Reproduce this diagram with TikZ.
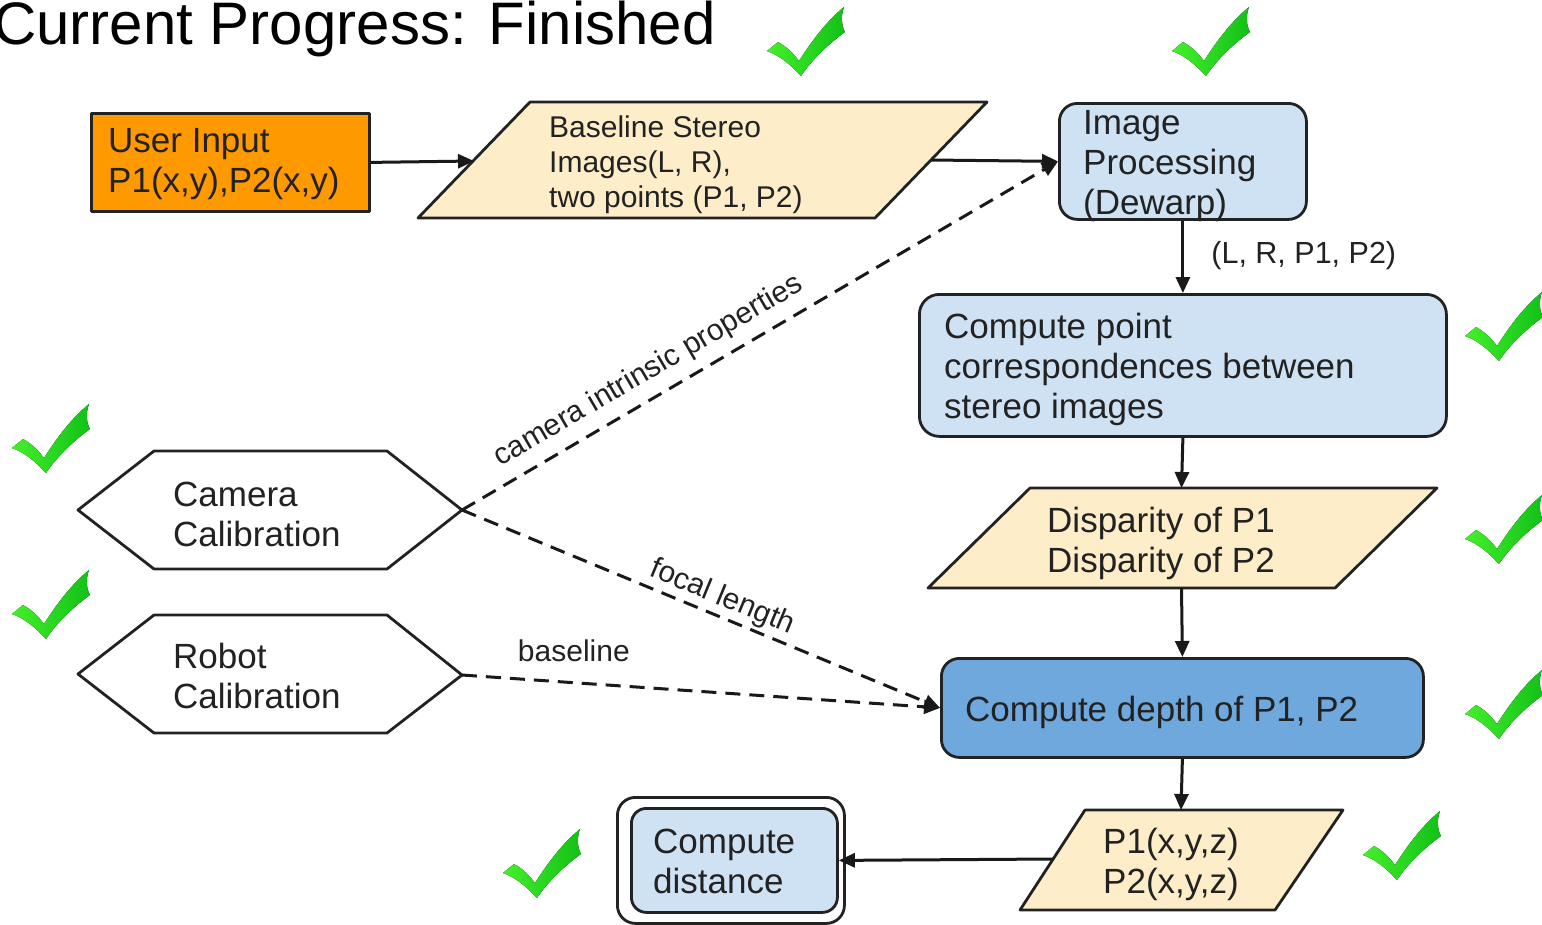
\documentclass[tikz,border=0pt]{standalone}
\usepackage{fontspec}
\setmainfont{Liberation Sans}
\usetikzlibrary{arrows.meta}
\definecolor{orng}{HTML}{FF9900}
\definecolor{cream}{HTML}{FDEDC9}
\definecolor{lblue}{HTML}{CFE2F3}
\definecolor{dblue}{HTML}{6FA8DC}
\definecolor{ink}{HTML}{222222}
\definecolor{chkA}{HTML}{44F02A}
\definecolor{chkB}{HTML}{12C018}
\tikzset{
  shp/.style={draw=ink, line width=2.8pt, line join=round},
  rbox/.style={shp, rounded corners=18pt, inner sep=0pt, anchor=north west},
  btxt/.style={font=\fontsize{35}{40}\selectfont, text=ink, align=left, inner sep=0pt, anchor=north west},
  stxt/.style={font=\fontsize{30}{35}\selectfont, text=ink, align=left, inner sep=0pt},
  arr/.style={draw=black!90, line width=3pt, -{Triangle[length=16pt,width=14pt]}},
  darr/.style={arr, dash pattern=on 15pt off 9pt},
  checkmark/.pic={
    \fill[left color=chkA, right color=chkB]
      (2,46) -- (13,37) .. controls (22,42) and (28,48) .. (34,56)
      .. controls (48,34) and (62,16) .. (79,2)
      .. controls (76,10) and (76,20) .. (80,27)
      .. controls (62,40) and (46,56) .. (36,71)
      .. controls (26,60) and (14,50) .. (2,46) -- cycle;
  }
}
\begin{document}
\begin{tikzpicture}[x=1pt, y=-1pt]
\useasboundingbox (0,0) rectangle (1542,924);

% title
\node[font=\fontsize{60}{66}\selectfont, inner sep=0pt, anchor=base east] (title) at (716,44) {Current Progress: Finished};

% user input
\node[shp, fill=orng, minimum width=278pt, minimum height=98pt, inner sep=0pt, anchor=north west] (ui) at (90,112) {};
\node[btxt] (uit) at (108,128) {User Input\\P1(x,y),P2(x,y)};

% baseline stereo parallelogram
\draw[shp, fill=cream] (530,102) -- (987,102) -- (875,218) -- (418,218) -- cycle;
\coordinate (bsL) at (474,161);
\coordinate (bsR) at (931,160);
\node[stxt, anchor=north west] (bst) at (549,116) {Baseline Stereo\\Images(L, R),\\two points (P1, P2)};

% image processing
\node[rbox, fill=lblue, minimum width=247pt, minimum height=116pt] (ip) at (1058,102) {};
\node[btxt] (ipt) at (1083,110) {Image\\Processing\\(Dewarp)};

% compute point correspondences
\node[rbox, fill=lblue, minimum width=527pt, minimum height=142pt, rounded corners=20pt] (cp) at (918,293) {};
\node[btxt] (cpt) at (944,313) {Compute point\\correspondences between\\stereo images};

% disparity
\draw[shp, fill=cream] (1030,488) -- (1437,488) -- (1335,588) -- (928,588) -- cycle;
\coordinate (dT) at (1181.5,488);
\coordinate (dB) at (1181.5,588);
\node[btxt] (dt) at (1047,507) {Disparity of P1\\Disparity of P2};

% compute depth
\node[rbox, fill=dblue, minimum width=482pt, minimum height=99pt] (cd) at (940,657) {};
\node[btxt] (cdt) at (965,696) {Compute depth of P1, P2};

% P1 P2 xyz
\draw[shp, fill=cream] (1085,810) -- (1343,810) -- (1275,910) -- (1020,910) -- cycle;
\coordinate (pT) at (1181,810);
\coordinate (pL) at (1053,859);
\node[btxt] (pt) at (1103,828) {P1(x,y,z)\\P2(x,y,z)};

% compute distance (double box)
\node[rbox, fill=white, minimum width=227pt, minimum height=126pt] (cdo) at (616,796) {};
\node[rbox, fill=lblue, minimum width=206pt, minimum height=104pt, rounded corners=15pt] (cdi) at (630,807) {};
\node[btxt] (cdit) at (653,829) {Compute\\distance};

% hexagons
\draw[shp, fill=white] (78,510) -- (154,451) -- (387,451) -- (462,510) -- (387,569) -- (154,569) -- cycle;
\coordinate (camR) at (462,510);
\node[btxt] (camt) at (173,482) {Camera\\Calibration};
\draw[shp, fill=white] (78,674) -- (154,615) -- (387,615) -- (462,675) -- (387,733) -- (154,733) -- cycle;
\coordinate (robR) at (462,675);
\node[btxt] (robt) at (173,643) {Robot\\Calibration};

% solid arrows
\draw[arr] (ui.east) -- (bsL);
\draw[arr] (bsR) -- (ip.west);
\draw[arr] (ip.south) -- node[stxt, font=\fontsize{30.5}{35}\selectfont, right=27pt, pos=0.48] (lrlab) {(L, R, P1, P2)} (cp.north);
\draw[arr] (cp.south) -- (dT);
\draw[arr] (dB) -- (cd.north);
\draw[arr] (cd.south) -- (pT);
\draw[arr] (pL) -- (cdi.east);

% dashed arrows
\draw[darr] (camR) -- node[stxt, sloped, above=10pt, pos=0.335] (cilab) {camera intrinsic properties} (ip.west);
\draw[darr] (camR) -- node[stxt, sloped, above=3pt, pos=0.53] (fllab) {focal length} (cd.west);
\draw[darr] (robR) -- node[stxt, above=19pt, pos=0.234] (bllab) {baseline} (cd.west);

% check marks
\pic at (765,5) {checkmark};
\pic at (1170,5) {checkmark};
\pic at (1463,290) {checkmark};
\pic at (10,402) {checkmark};
\pic at (1463,493) {checkmark};
\pic at (10,568) {checkmark};
\pic at (1463,668) {checkmark};
\pic at (1361,809) {checkmark};
\pic at (501,827) {checkmark};
\end{tikzpicture}
\end{document}
